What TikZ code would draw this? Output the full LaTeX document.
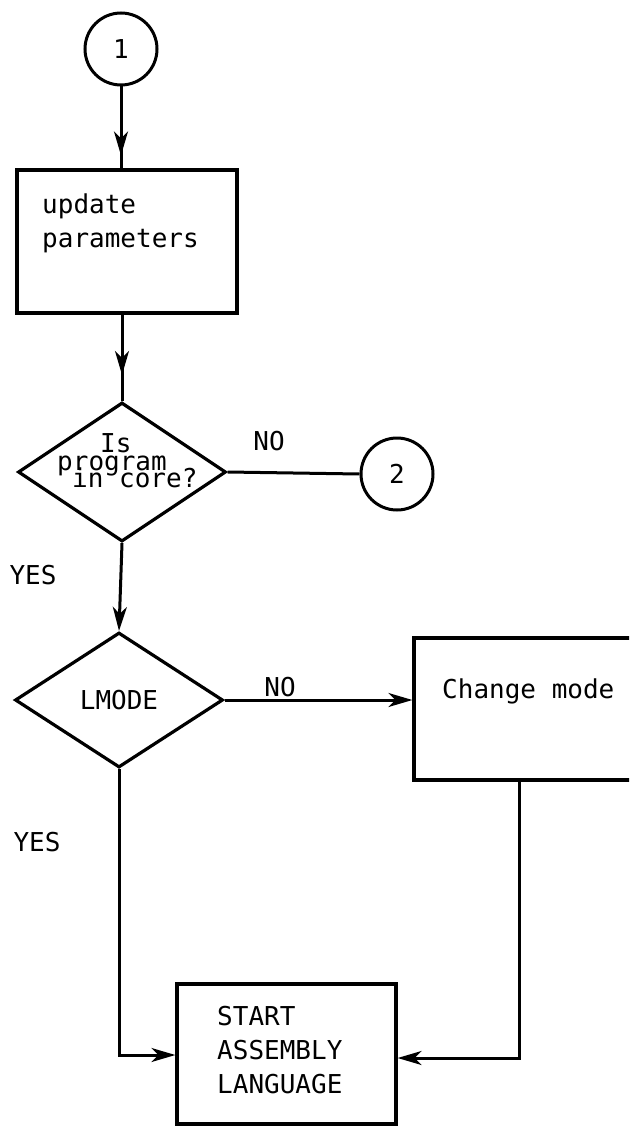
\documentclass[tikz,border=0pt]{standalone}
\usepackage{fontspec}
\newfontfamily\tw{DejaVu Sans Mono}
\usetikzlibrary{shapes.geometric,arrows.meta,decorations.markings}
\begin{document}
\begin{tikzpicture}[x=1pt,y=-1pt,
  every node/.style={font=\tw\fontsize{26}{34}\selectfont, inner sep=0pt},
  flow/.style={line width=3pt},
  conn/.style={draw, circle, line width=3pt, minimum size=72pt},
  proc/.style={draw, rectangle, line width=3.2pt},
  dec/.style={draw, diamond, line width=3.2pt},
  endtip/.style={-{Stealth[length=24pt,width=14pt,inset=7pt]}},
  midtip/.style={postaction={decorate,decoration={markings,
      mark=at position #1 with {\arrow{Stealth[length=24pt,width=14pt,inset=7pt]}}}}},
  txt/.style={anchor=base west, align=left}
]
\useasboundingbox (0,0) rectangle (629,1129);
\clip (0,0) rectangle (629,1129);

% entry connector and first process box
\node[conn] (c1) at (121,49) {1};
\node[proc, minimum width=220pt, minimum height=143pt] (b1) at (127,241.5) {};
\node[txt] (b1t) at (42,213) {\begin{tabular}[t]{@{}l@{}}update\\parameters\end{tabular}};

% first decision
\node[dec, minimum width=208pt, minimum height=139pt] (q1) at (122,472) {};
\node[txt] (q1a) at (100,452) {Is};
\node[txt] (q1b) at (57,470) {program};
\node[txt] (q1c) at (72,487) {in core?};
\node[conn] (c2) at (397,474) {2};
\node (no1) at (269,441) {NO};
\node (yes1) at (33,575) {YES};

% mode decision
\node[dec, minimum width=208pt, minimum height=135pt] (lm) at (119,700) {LMODE};
\node (no2) at (280,687) {NO};
\node (yes2) at (37,842) {YES};
\node[proc, minimum width=236pt, minimum height=142pt] (chg) at (532,709) {};
\node[txt] (chgt) at (442,698) {Change mode};

% final process box
\node[proc, minimum width=219pt, minimum height=140pt] (st) at (286.5,1054) {};
\node[txt] (stt) at (217,1025) {\begin{tabular}[t]{@{}l@{}}START\\ASSEMBLY\\LANGUAGE\end{tabular}};

% connectors
\draw[flow, midtip=-13pt] (c1.south) -- (b1.north -| c1);
\draw[flow, midtip=-26pt] (b1.south -| q1) -- (q1.north);
\draw[flow, endtip] (q1.south) -- (lm.north);
\draw[flow] (q1.east) -- (c2.west);
\draw[flow, endtip] (lm.east) -- (lm.east -| chg.west);
\coordinate (jl) at (113,1055);
\draw[flow, endtip] (lm.south) -- (lm.south |- jl) -- (st.west |- jl);
\coordinate (jr) at (519,1058);
\draw[flow, endtip] (chg.south -| jr) -- (jr) -- (st.east |- jr);
\end{tikzpicture}
\end{document}
